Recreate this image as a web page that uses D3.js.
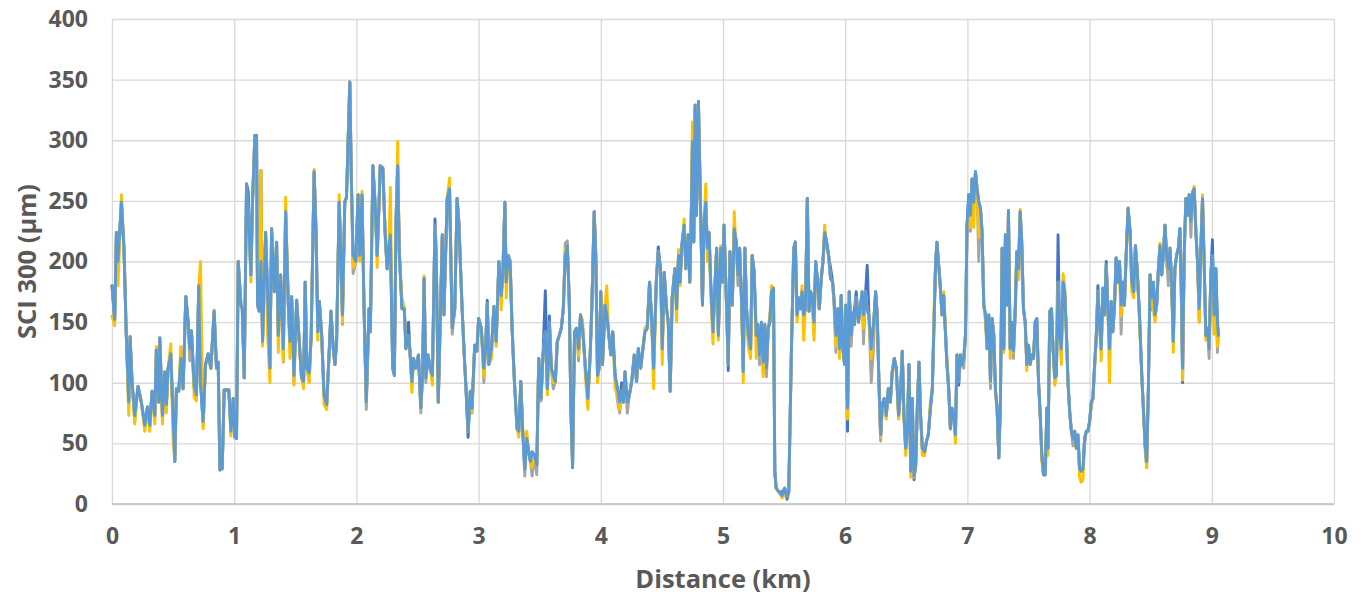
<!DOCTYPE html>
<html>
<head>
<meta charset="utf-8">
<script src="https://cdn.jsdelivr.net/npm/d3@7"></script>
<style>
	body { margin: 0; background: #fff; }
	.grid line { stroke: #d9d9d9; stroke-width: 1.3; }
	.axis text { font-family: "Open Sans", "Liberation Sans", sans-serif; font-weight: bold; font-size: 23px; fill: #595959; }
	.title { font-family: "Open Sans", "Liberation Sans", sans-serif; font-weight: bold; font-size: 25.5px; fill: #595959; }
	.line { fill: none; stroke-width: 2.9; stroke-linejoin: round; stroke-linecap: round; }
</style>
</head>
<body>
<script>
// distance along the road (km)
var distance = [
	0,0.022,0.036,0.049,0.077,0.098,0.117,0.137,0.148,0.164,
	0.186,0.213,0.240,0.268,0.290,0.309,0.328,0.350,0.363,0.383,
	0.391,0.413,0.432,0.445,0.459,0.481,0.500,0.514,0.527,0.546,
	0.563,0.582,0.604,0.623,0.637,0.650,0.672,0.691,0.710,0.724,
	0.746,0.765,0.787,0.809,0.836,0.855,0.869,0.883,0.902,0.918,
	0.940,0.956,0.973,0.992,1.005,1.019,1.033,1.055,1.066,1.082,
	1.101,1.115,1.137,1.150,1.169,1.183,1.191,1.205,1.219,1.232,
	1.257,1.273,1.292,1.306,1.328,1.347,1.361,1.380,1.402,1.421,
	1.443,1.456,1.470,1.489,1.511,
	1.551,1.568,1.581,1.595,1.614,1.630,1.654,1.670,1.684,1.697,
	1.716,1.735,1.757,1.776,1.792,1.811,1.824,1.838,1.859,1.873,
	1.886,1.905,1.919,1.946,1.959,1.973,1.995,2.014,2.027,2.046,
	2.062,2.081,2.103,2.114,2.135,2.154,2.170,2.184,2.195,2.216,
	2.235,2.251,2.265,2.278,2.297,2.311,2.324,2.338,2.351,2.373,
	2.392,2.405,2.427,2.438,2.454,2.468,2.486,2.508,2.527,2.541,
	2.554,2.568,2.586,2.603,2.622,2.643,2.654,2.670,2.689,2.703,
	2.716,2.743,2.762,2.784,2.805,2.824,2.838,2.865,2.884,2.897,
	2.914,2.932,2.946,2.968,2.986,3.000,3.022,
	3.043,3.057,3.071,3.084,3.106,3.125,3.144,3.166,3.185,3.198,
	3.215,3.226,3.242,3.258,3.274,3.293,3.315,3.329,3.345,3.361,
	3.378,3.394,3.410,3.424,3.438,3.459,3.476,3.492,3.511,3.527,
	3.546,3.563,3.579,3.595,3.611,3.628,3.644,3.660,3.677,3.693,
	3.709,3.726,3.742,3.755,3.769,3.785,3.802,3.818,3.834,3.851,
	3.872,3.894,3.913,3.927,3.946,3.959,3.973,3.986,4.000,4.014,
	4.035,4.049,4.063,4.082,4.098,4.117,4.136,4.155,4.171,4.185,
	4.198,4.217,4.234,4.253,4.274,4.293,4.307,4.326,4.342,4.361,
	4.380,4.399,4.416,4.432,4.454,4.470,4.489,4.503,4.519,4.538,
	4.552,4.568,4.584,
	4.606,4.620,4.636,4.649,4.663,4.682,4.696,4.715,4.728,4.739,
	4.750,4.761,4.772,4.783,4.799,4.812,4.832,4.845,4.859,4.872,
	4.886,4.899,4.918,4.935,4.948,4.962,4.981,4.995,5.008,5.027,
	5.043,5.057,5.076,5.092,5.109,5.122,5.136,5.152,5.166,5.179,
	5.193,5.207,5.226,5.239,5.255,5.272,5.285,5.299,5.315,5.329,
	5.342,5.356,5.370,5.383,5.397,5.413,5.424,5.435,5.457,5.484,
	5.505,5.524,5.538,5.560,5.579,5.592,5.606,5.620,5.633,5.647,
	5.660,5.674,5.690,5.704,5.717,5.728,5.745,5.758,5.772,5.788,
	5.804,5.818,5.832,5.848,5.864,5.880,5.897,5.910,5.924,5.940,
	5.954,5.967,5.981,5.995,6.005,6.019,6.033,6.049,6.063,6.076,
	6.090,6.109,
	6.139,6.150,6.167,6.180,6.194,6.213,6.232,6.249,6.262,6.276,
	6.290,6.303,6.320,6.336,6.352,6.369,6.385,6.402,6.418,6.437,
	6.454,6.467,6.481,6.495,6.508,6.522,6.536,6.549,6.563,6.577,
	6.590,6.604,6.617,6.631,6.650,6.664,6.680,6.697,6.713,6.727,
	6.740,6.751,6.765,6.779,6.792,6.806,6.820,6.833,6.847,6.861,
	6.874,6.888,6.902,6.915,6.929,6.943,6.956,6.970,6.984,6.997,
	7.011,7.025,7.038,7.052,7.066,7.079,7.093,7.107,7.120,7.134,
	7.148,7.161,7.175,7.189,7.202,7.216,7.230,7.243,7.257,7.270,
	7.284,7.298,7.311,7.325,7.336,7.350,7.363,7.377,7.391,7.404,
	7.418,7.432,7.445,7.459,7.473,7.486,7.500,7.514,7.527,7.541,
	7.555,7.568,7.582,7.596,7.609,7.623,7.637,7.650,
	7.660,7.674,7.688,7.701,7.715,7.728,7.742,7.755,7.769,7.783,
	7.796,7.810,7.823,7.837,7.851,7.864,7.878,7.891,7.905,7.918,
	7.932,7.946,7.959,7.973,7.986,8.000,8.014,8.027,8.041,8.054,
	8.068,8.082,8.095,8.109,8.122,8.136,8.149,8.163,8.177,8.190,
	8.204,8.217,8.231,8.245,8.258,8.272,8.285,8.299,8.315,8.332,
	8.345,8.361,8.375,8.389,8.408,8.427,8.440,8.454,8.467,8.481,
	8.495,8.508,8.522,8.535,8.549,8.563,8.576,8.590,8.603,8.617,
	8.630,8.644,8.658,8.671,8.685,8.698,8.712,8.726,8.739,8.750,
	8.761,8.774,8.788,8.802,8.815,8.829,8.842,8.856,8.870,8.883,
	8.897,8.910,8.924,8.938,8.951,8.965,8.978,8.992,9.005,9.019,
	9.033,9.046,9.054
];

// SCI 300 values (um), one list per run
var runDarkBlue = [
	180,152,224,200,249,211,139,84,138,101,
	73,97,84,65,80,65,93,73,127,84,
	137,73,109,82,112,124,71,35,95,93,
	120,95,171,150,128,143,98,90,180,101,
	68,115,124,112,159,112,117,28,29,94,
	94,94,60,87,55,54,200,164,161,104,
	264,258,189,249,304,304,164,159,275,134,
	224,175,112,227,175,216,139,189,128,241,
	164,134,171,106,168,
	104,101,183,112,108,139,274,224,142,167,
	139,90,82,123,159,128,115,134,249,205,
	156,249,253,348,266,205,200,255,205,255,
	164,84,161,142,279,246,205,244,279,277,
	224,194,211,222,112,106,233,279,208,161,
	161,128,150,126,101,120,112,123,79,106,
	186,104,123,112,106,235,200,84,164,222,
	156,252,260,145,161,252,233,161,120,95,
	55,93,79,131,126,153,145,
	112,128,168,115,128,163,134,200,172,189,
	249,183,205,200,145,101,62,60,101,60,
	29,54,43,35,43,40,32,120,87,123,
	176,95,155,112,106,101,134,139,145,161,
	205,213,167,79,30,142,145,128,156,145,
	115,87,123,164,241,205,106,112,175,115,
	164,156,142,123,142,106,95,84,100,84,
	109,84,90,101,123,101,128,112,126,142,
	145,183,153,112,183,212,194,128,191,161,
	150,93,170,
	194,161,205,183,213,230,194,222,183,230,
	299,216,329,238,332,266,164,233,249,211,
	224,183,142,183,211,139,211,183,230,170,
	110,208,164,227,216,189,211,167,109,211,
	161,139,128,205,191,139,148,123,150,117,
	148,112,145,150,175,178,27,13,10,10,
	13,4,10,128,211,216,156,170,161,175,
	156,161,252,159,175,172,150,200,186,161,
	186,200,224,216,205,195,183,167,139,161,
	128,172,128,115,164,60,175,139,156,160,
	175,150,
	175,156,175,197,156,128,148,175,156,101,
	57,82,87,73,90,84,109,120,112,73,
	95,126,73,46,60,115,27,87,20,32,
	79,117,73,46,43,51,57,79,95,150,
	200,216,197,178,156,172,142,115,95,62,
	79,73,57,123,98,123,115,120,139,230,
	255,238,268,249,274,260,249,244,224,164,
	156,128,156,101,153,139,93,79,38,82,
	211,128,222,164,242,128,150,126,162,208,
	194,241,216,160,150,115,131,118,123,120,
	150,153,101,73,40,24,24,79,
	46,159,161,128,104,106,222,139,128,183,
	175,142,101,76,60,54,60,46,57,29,
	27,29,54,60,60,68,84,87,115,137,
	180,148,128,178,156,200,164,128,167,142,
	164,203,183,200,164,183,164,205,244,224,
	183,175,213,194,156,106,79,49,30,95,
	189,170,183,156,164,194,213,189,205,230,
	205,194,211,183,134,194,205,211,227,178,
	100,205,252,238,255,240,257,260,224,200,
	161,211,252,197,139,145,128,189,218,156,
	194,150,139
];

var runGray = [
	180,152,224,195,249,211,139,80,138,101,
	68,97,84,63,80,63,93,70,127,84,
	137,70,109,80,112,124,68,35,95,93,
	120,95,171,150,118,143,95,90,180,101,
	64,115,124,112,159,112,117,28,29,94,
	94,94,58,87,55,54,200,164,161,104,
	264,241,189,249,304,304,164,159,200,134,
	224,175,112,227,175,216,139,189,117,241,
	164,134,171,100,168,
	104,101,183,112,101,139,274,224,142,167,
	139,90,82,123,159,128,115,134,249,205,
	148,249,253,348,266,190,200,255,205,255,
	164,78,161,142,279,246,205,244,279,277,
	224,194,211,222,112,106,233,279,208,161,
	161,128,139,126,98,120,112,123,75,106,
	186,100,123,112,106,230,200,84,160,222,
	156,252,260,140,161,252,233,161,120,95,
	60,93,75,131,126,153,145,
	100,128,165,115,128,163,134,200,172,189,
	249,183,205,200,145,101,62,60,101,60,
	23,54,43,35,23,40,24,120,85,123,
	142,95,150,112,95,101,134,139,145,161,
	215,217,167,79,32,142,145,118,156,145,
	115,87,123,164,241,205,106,112,175,115,
	164,156,142,123,142,106,85,75,93,84,
	109,75,90,101,123,101,128,112,126,142,
	145,183,153,112,183,208,194,128,191,161,
	150,93,170,
	194,161,205,183,213,230,194,222,183,230,
	299,216,329,238,332,266,164,233,249,211,
	224,183,142,183,211,139,211,183,230,170,
	115,208,164,227,216,180,211,167,109,211,
	161,139,125,205,191,139,148,115,150,108,
	148,105,145,150,175,178,27,13,10,7,
	13,6,10,128,211,216,156,170,161,175,
	156,161,252,159,175,172,140,200,186,161,
	186,200,224,216,205,186,183,160,125,161,
	128,172,128,115,164,75,175,130,156,148,
	170,150,
	175,132,175,160,156,100,130,175,156,98,
	52,82,87,73,95,84,109,120,112,73,
	95,126,73,46,60,115,27,87,23,32,
	79,117,73,46,43,51,57,79,95,150,
	200,212,197,178,156,172,142,115,95,62,
	79,73,57,123,101,123,115,112,139,230,
	228,225,268,249,274,260,200,244,224,164,
	156,128,156,95,153,139,93,79,38,82,
	211,128,222,164,242,128,150,120,156,208,
	194,241,195,161,150,115,131,115,123,120,
	150,153,101,73,40,24,24,79,
	46,159,161,128,104,106,183,139,128,183,
	175,142,101,76,60,48,60,46,55,28,
	27,29,48,60,60,68,84,87,115,137,
	175,148,128,178,156,197,164,128,167,142,
	164,203,183,200,140,183,164,205,244,224,
	183,175,213,194,156,106,79,49,35,95,
	189,160,183,156,164,194,213,189,205,230,
	205,180,211,183,134,194,205,211,227,178,
	112,205,252,238,255,220,257,260,224,200,
	150,211,252,197,139,145,120,189,205,156,
	194,125,139
];

var runYellow = [
	155,147,224,180,255,211,139,73,138,101,
	66,97,84,60,80,60,93,66,130,84,
	137,66,109,75,112,132,53,35,95,93,
	130,95,171,150,128,143,88,85,180,200,
	62,115,124,112,160,112,117,28,29,94,
	94,94,56,87,55,54,200,164,161,104,
	250,241,183,249,304,304,164,159,275,130,
	224,140,100,227,175,216,125,189,118,253,
	164,120,171,98,168,
	104,95,183,112,100,139,276,224,135,167,
	139,82,78,123,159,128,115,134,255,205,
	150,249,253,348,266,195,200,255,200,258,
	164,84,161,142,279,246,195,244,279,277,
	224,194,211,261,112,106,233,299,208,170,
	161,133,139,126,92,120,112,123,78,106,
	188,104,123,112,98,230,215,84,164,222,
	156,252,269,145,161,252,233,161,120,95,
	60,93,76,131,126,153,145,
	105,128,165,115,120,163,130,200,160,189,
	249,170,205,200,145,101,62,55,101,62,
	45,60,43,35,30,40,32,120,87,123,
	140,90,150,110,100,101,134,139,145,161,
	210,213,167,80,32,142,145,122,156,152,
	108,78,123,164,241,205,100,112,175,115,
	164,180,142,123,142,95,90,78,93,84,
	109,84,90,101,123,101,120,112,126,145,
	148,183,153,95,183,208,190,115,191,161,
	150,93,170,
	194,150,210,180,213,235,194,222,183,234,
	315,250,329,238,332,266,164,233,264,200,
	224,175,132,183,211,135,213,183,230,170,
	115,208,164,241,205,189,211,167,100,211,
	161,130,120,205,191,120,148,123,150,105,
	148,112,145,155,180,178,25,13,10,5,
	8,6,10,128,211,216,150,165,161,180,
	135,161,252,159,175,172,135,200,186,161,
	186,200,230,210,205,186,183,167,130,161,
	120,172,128,115,164,70,175,139,156,148,
	170,150,
	175,145,175,160,156,120,148,175,156,101,
	55,75,80,70,95,84,109,120,108,70,
	95,126,70,40,60,115,22,87,22,32,
	80,117,73,40,40,51,57,85,95,160,
	200,216,197,178,156,175,148,118,95,62,
	79,73,50,123,101,123,115,120,139,230,
	235,228,268,228,274,260,220,244,224,164,
	150,128,156,100,153,139,93,75,38,82,
	211,125,222,164,242,120,150,125,156,208,
	185,243,216,161,150,110,131,115,123,120,
	150,150,101,73,35,24,24,79,
	40,159,155,128,98,106,183,139,115,190,
	180,135,101,76,60,54,60,46,57,22,
	18,20,54,60,60,68,80,87,110,137,
	175,148,118,178,156,197,164,100,167,145,
	164,195,183,190,155,183,164,205,244,215,
	175,170,213,194,150,106,79,45,30,95,
	189,170,160,150,164,194,215,189,205,230,
	195,194,211,183,125,194,205,211,220,178,
	102,205,252,238,255,233,257,262,224,200,
	150,200,255,197,135,145,128,189,200,140,
	160,130,140
];

var runLightBlue = [
	180,152,224,200,249,211,139,84,138,101,
	73,97,84,65,80,65,93,73,127,84,
	137,73,109,82,112,124,71,35,95,93,
	120,95,171,150,128,143,98,90,180,101,
	68,115,124,112,159,112,117,28,29,94,
	94,94,60,87,55,54,200,164,161,104,
	264,241,189,249,304,304,164,159,200,134,
	224,175,112,227,175,216,139,189,128,241,
	164,134,171,106,168,
	104,101,183,112,108,139,274,224,142,167,
	139,90,82,123,159,128,115,134,249,205,
	156,249,253,348,266,205,200,255,205,255,
	164,84,161,142,279,246,205,244,279,277,
	224,194,211,222,112,106,233,279,208,161,
	161,128,139,126,101,120,112,123,79,106,
	186,104,123,112,106,230,200,84,164,222,
	156,252,260,145,161,252,233,161,120,95,
	60,93,79,131,126,153,145,
	112,128,165,115,128,163,134,200,172,189,
	249,183,205,200,145,101,62,60,101,60,
	29,54,43,35,43,40,32,120,87,123,
	142,95,150,112,106,101,134,139,145,161,
	205,213,167,79,32,142,145,128,156,145,
	115,87,123,164,241,205,106,112,175,115,
	164,156,142,123,142,106,95,84,93,84,
	109,84,90,101,123,101,128,112,126,142,
	145,183,153,112,183,208,194,128,191,161,
	150,93,170,
	194,161,205,183,213,230,194,222,183,230,
	299,216,329,238,332,266,164,233,249,211,
	224,183,142,183,211,139,211,183,230,170,
	115,208,164,227,216,189,211,167,109,211,
	161,139,128,205,191,139,148,123,150,117,
	148,112,145,150,175,178,27,13,10,7,
	13,6,10,128,211,216,156,170,161,175,
	156,161,252,159,175,172,150,200,186,161,
	186,200,224,216,205,186,183,167,139,161,
	128,172,128,115,164,79,175,139,156,148,
	170,150,
	175,156,175,160,156,128,148,175,156,101,
	57,82,87,73,95,84,109,120,112,73,
	95,126,73,46,60,115,27,87,23,32,
	79,117,73,46,43,51,57,79,95,150,
	200,216,197,178,156,172,142,115,95,62,
	79,73,57,123,101,123,115,120,139,230,
	255,238,268,249,274,260,249,244,224,164,
	156,128,156,101,153,139,93,79,38,82,
	211,128,222,164,242,128,150,126,156,208,
	194,241,216,161,150,115,131,115,123,120,
	150,153,101,73,40,24,24,79,
	46,159,161,128,104,106,183,139,128,183,
	175,142,101,76,60,54,60,46,57,29,
	27,29,54,60,60,68,84,87,115,137,
	175,148,128,178,156,197,164,128,167,142,
	164,203,183,200,164,183,164,205,244,224,
	183,175,213,194,156,106,79,49,35,95,
	189,170,183,156,164,194,213,189,205,230,
	205,194,211,183,134,194,205,211,227,178,
	112,205,252,238,255,233,257,260,224,200,
	161,211,252,197,139,145,128,189,205,156,
	194,150,139
];

var xTicks = [0, 1, 2, 3, 4, 5, 6, 7, 8, 9, 10];
var yTicks = [0, 50, 100, 150, 200, 250, 300, 350, 400];

// drawing order follows the spreadsheet: last one ends up on top
var runs = [
	{ name: "dark blue", values: runDarkBlue, color: "#4472c4" },
	{ name: "gray", values: runGray, color: "#a5a5a5" },
	{ name: "yellow", values: runYellow, color: "#ffc000" },
	{ name: "light blue", values: runLightBlue, color: "#5b9bd5" }
];

(function() {

	// initial configurations parameters
	var margin = { top: 19, right: 30, bottom: 92, left: 112 };
	var width = 1364 - margin.left - margin.right;
	var height = 596 - margin.top - margin.bottom;

	var svg = d3.select("body")
		.append("svg")
		.attr("width", 1364)
		.attr("height", 596)
	.append("g")
		.attr("transform", "translate(" + margin.left + "," + margin.top + ")");

	var x = d3.scaleLinear()
		.domain([0, 10])
		.range([0, width]);

	var y = d3.scaleLinear()
		.domain([0, 400])
		.range([height, 0]);

	// grid lines
	svg.append("g")
		.attr("class", "grid")
		.call(d3.axisLeft(y).tickValues(yTicks).tickSize(-width).tickFormat(""))
		.call(function(g) { g.select(".domain").remove(); });

	svg.append("g")
		.attr("class", "grid")
		.attr("transform", "translate(0," + height + ")")
		.call(d3.axisBottom(x).tickValues(xTicks).tickSize(-height).tickFormat(""))
		.call(function(g) { g.select(".domain").remove(); });

	// bottom axis line
	svg.append("line")
		.attr("x1", 0)
		.attr("x2", width)
		.attr("y1", height)
		.attr("y2", height)
		.attr("stroke", "#bfbfbf")
		.attr("stroke-width", 1.5);

	// tick labels
	svg.append("g")
		.attr("class", "x axis")
		.attr("transform", "translate(0," + height + ")")
		.call(d3.axisBottom(x).tickValues(xTicks).tickSize(0).tickPadding(24))
		.call(function(g) { g.select(".domain").remove(); });

	svg.append("g")
		.attr("class", "y axis")
		.call(d3.axisLeft(y).tickValues(yTicks).tickSize(0).tickPadding(24))
		.call(function(g) { g.select(".domain").remove(); });

	// axis titles
	svg.append("text")
		.attr("class", "title")
		.attr("transform", "rotate(-90)")
		.attr("x", -height / 2)
		.attr("y", -76)
		.style("text-anchor", "middle")
		.text("SCI 300 (μm)");

	svg.append("text")
		.attr("class", "title")
		.attr("x", width / 2)
		.attr("y", height + 84)
		.style("text-anchor", "middle")
		.text("Distance (km)");

	// the lines
	runs.forEach(function(run) {
		var n = Math.min(distance.length, run.values.length);
		if (run.values.length !== distance.length) {
			console.error(run.name + ": " + run.values.length + " values for " + distance.length + " distances");
		}
		var pts = d3.range(n).map(function(i) { return { d: distance[i], v: run.values[i] }; });

		var line = d3.line()
			.x(function(p) { return x(p.d); })
			.y(function(p) { return y(p.v); });

		svg.append("path")
			.datum(pts)
			.attr("class", "line")
			.attr("stroke", run.color)
			.attr("d", line);
	});

})();
</script>
</body>
</html>
